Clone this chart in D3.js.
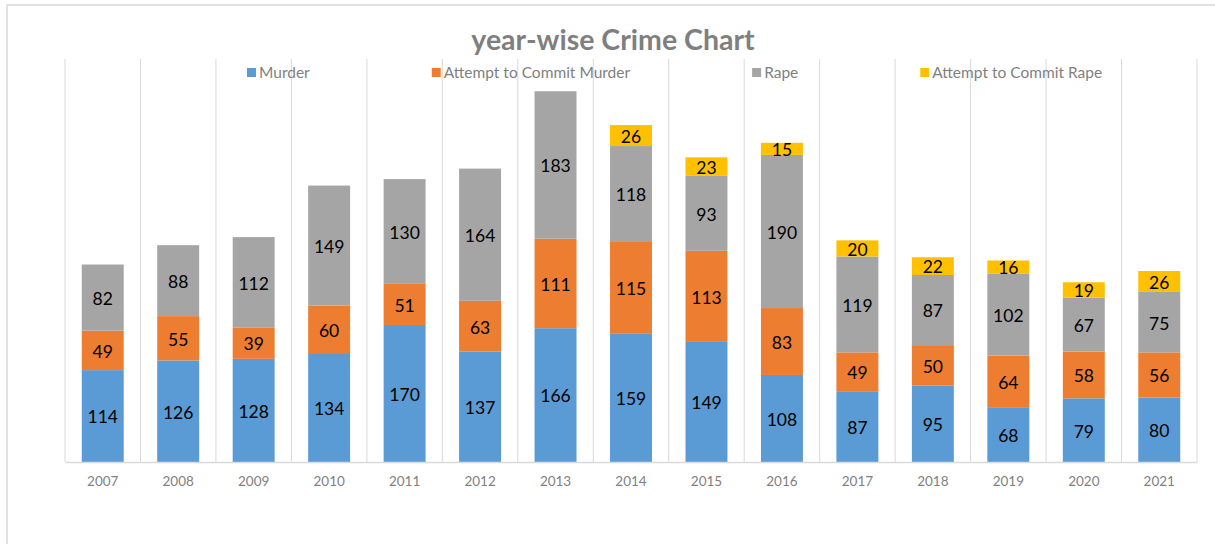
<!DOCTYPE html>
<html>
<head>
<meta charset="utf-8">
<script src="https://cdn.jsdelivr.net/npm/d3@7"></script>
<style>
  body { margin: 0; background: #fff; }
  text { font-family: Lato, "Open Sans", sans-serif; }
</style>
</head>
<body>
<svg id="chart" width="1215" height="544"></svg>
<script>
// Data
var years = ["2007","2008","2009","2010","2011","2012","2013","2014","2015","2016","2017","2018","2019","2020","2021"];
var murder = [114,126,128,134,170,137,166,159,149,108,87,95,68,79,80];
var attemptMurder = [49,55,39,60,51,63,111,115,113,83,49,50,64,58,56];
var rape = [82,88,112,149,130,164,183,118,93,190,119,87,102,67,75];
var attemptRape = [0,0,0,0,0,0,0,26,23,15,20,22,16,19,26];
var seriesNames = ["Murder","Attempt to Commit Murder","Rape","Attempt to Commit Rape"];
var seriesColors = ["#5b9bd5","#ed7d31","#a5a5a5","#ffc000"];
var yMax = 500;

var svg = d3.select("#chart");
var plot = {left: 65, right: 1197, top: 59, bottom: 462};

// chart frame
svg.append("rect")
  .attr("x", 7).attr("y", 5)
  .attr("width", 1240).attr("height", 600)
  .attr("fill", "none")
  .attr("stroke", "#d9d9d9")
  .attr("stroke-width", 1.5);

var rows = years.map(function(y, i) {
  return {year: y, "Murder": murder[i], "Attempt to Commit Murder": attemptMurder[i],
          "Rape": rape[i], "Attempt to Commit Rape": attemptRape[i]};
});

var x = d3.scaleBand()
  .domain(years)
  .range([plot.left, plot.right])
  .paddingInner(0.444)
  .paddingOuter(0.222);

var xGrid = d3.scaleBand().domain(years).range([plot.left, plot.right]);

var y = d3.scaleLinear().domain([0, yMax]).range([plot.bottom, plot.top]);

var color = d3.scaleOrdinal().domain(seriesNames).range(seriesColors);

// vertical gridlines at category boundaries
var bounds = years.map(function(d) { return xGrid(d); }).concat([plot.right]);
svg.append("g").selectAll("line")
  .data(bounds)
  .enter()
  .append("line")
  .attr("x1", function(d) { return d; })
  .attr("x2", function(d) { return d; })
  .attr("y1", plot.top)
  .attr("y2", plot.bottom)
  .attr("stroke", "#d9d9d9")
  .attr("stroke-width", 1);

// stacked bars
var stacked = d3.stack().keys(seriesNames)(rows);

var layers = svg.append("g").selectAll("g")
  .data(stacked)
  .enter()
  .append("g")
  .attr("fill", function(d) { return color(d.key); });

layers.selectAll("rect")
  .data(function(d) { return d; })
  .enter()
  .append("rect")
  .attr("x", function(d) { return x(d.data.year); })
  .attr("width", x.bandwidth())
  .attr("y", function(d) { return y(d[1]); })
  .attr("height", function(d) { return y(d[0]) - y(d[1]); });

// data labels
layers.selectAll("text")
  .data(function(d) { return d.filter(function(s) { return s[1] - s[0] > 0; }); })
  .enter()
  .append("text")
  .attr("x", function(d) { return x(d.data.year) + x.bandwidth() / 2; })
  .attr("y", function(d) { return (y(d[0]) + y(d[1])) / 2; })
  .attr("dy", "0.42em")
  .attr("text-anchor", "middle")
  .attr("fill", "#000")
  .attr("font-size", "17.5px")
  .text(function(d) { return d[1] - d[0]; });

// x axis
var xAxis = svg.append("g")
  .attr("transform", "translate(0," + plot.bottom + ")")
  .call(d3.axisBottom(xGrid).tickSize(0).tickPadding(14));
xAxis.select(".domain").attr("stroke", "#d9d9d9").attr("stroke-width", 1.5);
xAxis.selectAll("text")
  .attr("fill", "#7f7f7f")
  .attr("font-size", "13.5px")
  .style("font-family", "Lato, 'Open Sans', sans-serif");

// title
svg.append("text")
  .attr("x", 613)
  .attr("y", 50)
  .attr("text-anchor", "middle")
  .attr("fill", "#7f7f7f")
  .attr("font-size", "28.5px")
  .attr("font-weight", "bold")
  .text("year-wise Crime Chart");

// legend, laid out left to right
var legend = svg.append("g").attr("transform", "translate(247,73)");
var lx = 0;
seriesNames.forEach(function(name) {
  var item = legend.append("g").attr("transform", "translate(" + lx + ",0)");
  item.append("rect")
    .attr("x", 0).attr("y", -5)
    .attr("width", 9).attr("height", 9)
    .attr("fill", color(name));
  var t = item.append("text")
    .attr("x", 12)
    .attr("y", 0)
    .attr("dy", "0.35em")
    .attr("fill", "#7f7f7f")
    .attr("font-size", "15.5px")
    .text(name);
  lx += 12 + t.node().getComputedTextLength() + 122;
});
</script>
</body>
</html>
